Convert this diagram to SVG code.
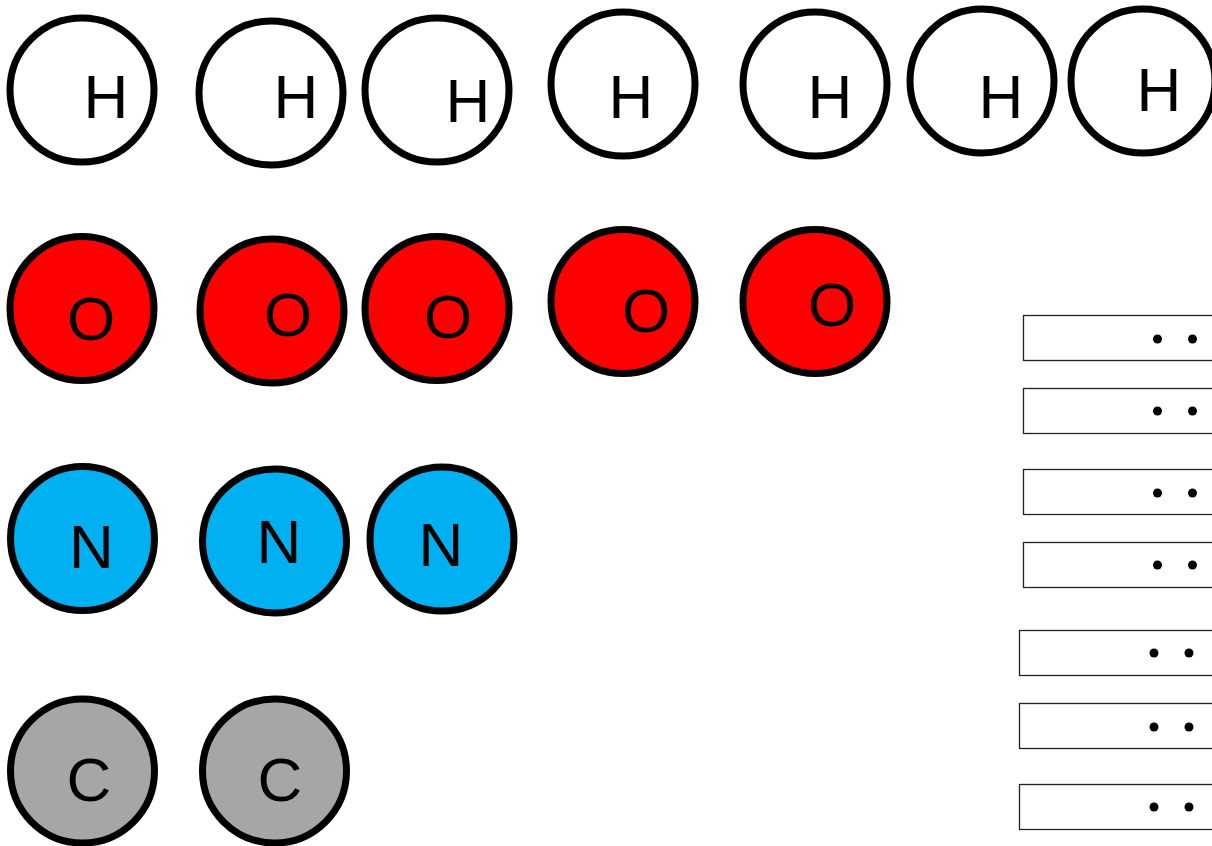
<svg xmlns="http://www.w3.org/2000/svg" width="1212" height="846" viewBox="0 0 1212 846">
<style>
.atom{stroke:#000;stroke-width:7}
.h{fill:#fff}
.o{fill:#ff0000}
.n{fill:#00b0f0}
.c{fill:#a6a6a6}
.lbl{font-family:"Liberation Sans",Arial,sans-serif;font-size:62px;fill:#000;text-anchor:middle}
.slot{fill:#fff;stroke:#222;stroke-width:1.3}
.dot{fill:#000}
</style>
<rect width="1212" height="846" fill="#fff"/>
<g id="H1"><circle class="atom h" cx="82" cy="90" r="72"/><text class="lbl" x="106" y="118">H</text></g>
<g id="H2"><circle class="atom h" cx="271" cy="93" r="72"/><text class="lbl" x="296" y="118">H</text></g>
<g id="H3"><circle class="atom h" cx="437" cy="90" r="72"/><text class="lbl" x="468" y="122">H</text></g>
<g id="H4"><circle class="atom h" cx="623" cy="84" r="72"/><text class="lbl" x="631" y="118">H</text></g>
<g id="H5"><circle class="atom h" cx="815" cy="84" r="72"/><text class="lbl" x="830" y="118">H</text></g>
<g id="H6"><circle class="atom h" cx="982" cy="81" r="72"/><text class="lbl" x="1001" y="118">H</text></g>
<g id="H7"><circle class="atom h" cx="1143" cy="81" r="72"/><text class="lbl" x="1159" y="111">H</text></g>

<g id="O1"><circle class="atom o" cx="82" cy="308.5" r="72"/><text class="lbl" x="91" y="340">O</text></g>
<g id="O2"><circle class="atom o" cx="272" cy="311" r="72"/><text class="lbl" x="288" y="336">O</text></g>
<g id="O3"><circle class="atom o" cx="437" cy="308.5" r="72"/><text class="lbl" x="448" y="338">O</text></g>
<g id="O4"><circle class="atom o" cx="623" cy="301.5" r="72"/><text class="lbl" x="646" y="332">O</text></g>
<g id="O5"><circle class="atom o" cx="815" cy="301.5" r="72"/><text class="lbl" x="832" y="326">O</text></g>

<g id="N1"><circle class="atom n" cx="82.5" cy="538.5" r="72"/><text class="lbl" x="91.5" y="568">N</text></g>
<g id="N2"><circle class="atom n" cx="274.5" cy="541" r="72"/><text class="lbl" x="279" y="563">N</text></g>
<g id="N3"><circle class="atom n" cx="442" cy="539" r="72"/><text class="lbl" x="441" y="566">N</text></g>

<g id="C1"><circle class="atom c" cx="82.5" cy="771" r="72"/><text class="lbl" x="89" y="801">C</text></g>
<g id="C2"><circle class="atom c" cx="274.5" cy="771" r="72"/><text class="lbl" x="280" y="801">C</text></g>

<g id="slot1"><rect class="slot" x="1023.5" y="315.5" width="200" height="45"/><circle class="dot" cx="1157.5" cy="339" r="4.5"/><circle class="dot" cx="1192.5" cy="339" r="4.5"/></g>
<g id="slot2"><rect class="slot" x="1023.5" y="388.5" width="200" height="45"/><circle class="dot" cx="1157.5" cy="411" r="4.5"/><circle class="dot" cx="1192.5" cy="411" r="4.5"/></g>
<g id="slot3"><rect class="slot" x="1023.5" y="469.5" width="200" height="45"/><circle class="dot" cx="1157.5" cy="493" r="4.5"/><circle class="dot" cx="1192.5" cy="493" r="4.5"/></g>
<g id="slot4"><rect class="slot" x="1023.5" y="542.5" width="200" height="45"/><circle class="dot" cx="1157.5" cy="565" r="4.5"/><circle class="dot" cx="1192.5" cy="565" r="4.5"/></g>
<g id="slot5"><rect class="slot" x="1019.5" y="630.5" width="200" height="45"/><circle class="dot" cx="1154" cy="653" r="4.5"/><circle class="dot" cx="1189" cy="653" r="4.5"/></g>
<g id="slot6"><rect class="slot" x="1019.5" y="703.5" width="200" height="45"/><circle class="dot" cx="1154" cy="727" r="4.5"/><circle class="dot" cx="1189" cy="727" r="4.5"/></g>
<g id="slot7"><rect class="slot" x="1019.5" y="784.5" width="200" height="45"/><circle class="dot" cx="1154" cy="807" r="4.5"/><circle class="dot" cx="1189" cy="807" r="4.5"/></g>
<g id="connectors"/>
</svg>
